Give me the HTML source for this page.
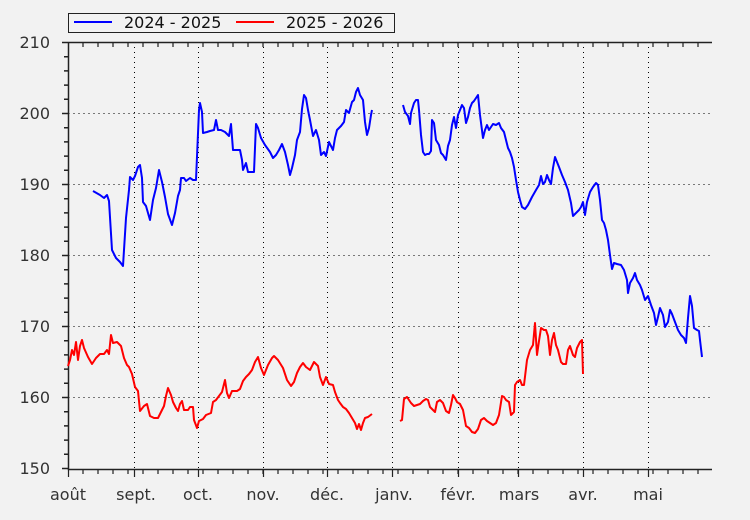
<!DOCTYPE html>
<html><head><meta charset="utf-8"><style>
html,body{margin:0;padding:0;background:#f2f2f2;}
svg{display:block;font-family:"DejaVu Sans","Liberation Sans",sans-serif;}
</style></head><body>
<svg width="750" height="520" viewBox="0 0 750 520" xmlns="http://www.w3.org/2000/svg">
<rect width="750" height="520" fill="#f2f2f2"/>
<g stroke="#000" stroke-width="1" stroke-dasharray="1,4" fill="none">
<path d="M68.5 113.5H712M68.5 184.5H712M68.5 255.5H712M68.5 326.5H712M68.5 397.5H712"/>
<path d="M134.5 42V469M198.5 42V469M263.5 42V469M327.5 42V469M392.5 42V469M458.5 42V469M518.5 42V469M583.5 42V469M648.5 42V469"/>
</g>
<g stroke="#222" stroke-width="1.5" fill="none">
<path d="M68.5 42V469.5H712"/>
<path d="M62 42.5H712"/>
<path d="M62 113.5H68M62 184.5H68M62 255.5H68M62 326.5H68M62 397.5H68M62 468.5H68"/>
<path d="M68 56.7h-4M68 70.9h-4M68 85.1h-4M68 99.3h-4M68 127.7h-4M68 141.9h-4M68 156.1h-4M68 170.3h-4M68 198.7h-4M68 212.9h-4M68 227.1h-4M68 241.3h-4M68 269.7h-4M68 283.9h-4M68 298.1h-4M68 312.3h-4M68 340.7h-4M68 354.9h-4M68 369.1h-4M68 383.3h-4M68 411.7h-4M68 425.9h-4M68 440.1h-4M68 454.3h-4"/>
</g>
<g stroke="#222" stroke-width="1.2">
<path d="M68.5 469v8M134.5 469v8M198.5 469v8M263.5 469v8M327.5 469v8M392.5 469v8M458.5 469v8M518.5 469v8M583.5 469v8M648.5 469v8"/>
<path d="M83 469v5M98 469v5M113 469v5M128 469v5M143 469v5M158 469v5M173 469v5M188 469v5M203 469v5M218 469v5M233 469v5M248 469v5M263 469v5M278 469v5M293 469v5M308 469v5M323 469v5M338 469v5M353 469v5M368 469v5M383 469v5M398 469v5M413 469v5M428 469v5M443 469v5M458 469v5M473 469v5M488 469v5M503 469v5M518 469v5M533 469v5M548 469v5M563 469v5M578 469v5M593 469v5M608 469v5M623 469v5M638 469v5M653 469v5M668 469v5M683 469v5M698 469v5"/>
<path d="M83 42v5M98 42v5M113 42v5M128 42v5M143 42v5M158 42v5M173 42v5M188 42v5M203 42v5M218 42v5M233 42v5M248 42v5M263 42v5M278 42v5M293 42v5M308 42v5M323 42v5M338 42v5M353 42v5M368 42v5M383 42v5M398 42v5M413 42v5M428 42v5M443 42v5M458 42v5M473 42v5M488 42v5M503 42v5M518 42v5M533 42v5M548 42v5M563 42v5M578 42v5M593 42v5M608 42v5M623 42v5M638 42v5M653 42v5M668 42v5M683 42v5M698 42v5"/>
</g>
<g font-size="16" fill="#333" text-anchor="end">
<text x="50" y="48">210</text><text x="50" y="119">200</text><text x="50" y="190">190</text>
<text x="50" y="261">180</text><text x="50" y="332">170</text><text x="50" y="403">160</text><text x="50" y="474">150</text>
</g>
<g font-size="16" fill="#333" text-anchor="middle">
<text x="68" y="500">août</text><text x="136" y="500">sept.</text><text x="198" y="500">oct.</text><text x="263" y="500">nov.</text>
<text x="327" y="500">déc.</text><text x="394" y="500">janv.</text><text x="458" y="500">févr.</text><text x="519" y="500">mars</text>
<text x="583" y="500">avr.</text><text x="648" y="500">mai</text>
</g>
<rect x="68.5" y="13.5" width="326" height="19" fill="#f2f2f2" stroke="#222" stroke-width="1"/>
<line x1="74" y1="22" x2="112" y2="22" stroke="#0000ff" stroke-width="2"/>
<text x="124" y="28" font-size="16" fill="#111">2024 - 2025</text>
<line x1="236" y1="22" x2="274" y2="22" stroke="#ff0000" stroke-width="2"/>
<text x="286" y="28" font-size="16" fill="#111">2025 - 2026</text>
<g fill="none" stroke-width="2" stroke-linejoin="round">
<polyline stroke="#0000ff" points="93,191 100,195 104,198 107,195 109,201 112,250 116,258 120,262 123,266 126,218 129,190 130,177 133,180 135,176 138,167 140,165 142,178 143,202 146,206 150,220 153,200 156,188 159,170 162,182 165,197 168,214 172,225 175,213 178,196 180,190 181,178 184,178 186,181 190,178 193,180 196,180 199,110 200,103 202,112 203,133 207,132 210,131 214,130 216,120 218,130 221,130 225,132 229,136 231,124 233,150 236,150 238,150 240,150 242,160 243,170 246,163 248,172 252,172 254,172 256,124 258,128 261,138 265,145 270,152 273,158 276,155 279,150 282,144 285,152 288,165 290,175 292,168 295,155 297,140 300,132 302,109 304,95 306,98 308,110 310,120 313,136 316,130 319,140 321,155 324,152 326,156 329,142 333,150 335,138 337,130 339,128 341,126 344,122 346,110 349,113 352,102 354,100 356,92 358,88 360,95 363,100 365,122 367,135 369,128 371,115 372,110"/>
<polyline stroke="#0000ff" points="403,105 405,112 408,116 410,124 411,113 414,103 416,100 418,100 419,110 421,135 423,152 425,155 427,154 429,154 431,151 432,120 434,123 436,140 439,145 441,153 443,155 446,160 448,146 450,140 452,125 454,117 456,128 458,115 460,110 462,105 464,108 466,123 468,117 470,108 472,103 474,101 476,98 478,95 480,115 483,138 485,130 487,125 489,130 491,127 493,124 496,125 499,123 501,128 504,132 506,140 508,148 510,152 512,158 514,167 516,180 518,192 520,200 522,207 525,209 528,205 532,197 536,190 539,185 541,176 543,184 545,182 547,175 549,180 551,184 553,168 555,157 557,162 559,167 562,175 565,182 568,190 571,203 573,216 576,213 579,210 581,207 583,202 585,215 587,202 590,192 593,187 596,183 598,185 600,200 602,220 604,223 606,230 608,240 610,255 612,269 614,263 617,264 621,265 624,270 627,280 628,293 630,283 633,278 635,273 637,280 640,285 642,290 645,300 648,296 651,305 654,313 656,325 658,317 660,308 663,315 665,327 668,322 670,310 672,314 675,322 678,330 681,335 684,338 686,343 688,318 690,296 692,306 694,328 697,330 699,331 700,340 702,357"/>
<polyline stroke="#ff0000" points="68,366 70,360 72,350 74,355 76,342 78,360 80,346 82,340 84,348 88,357 92,364 96,358 100,354 104,354 107,350 109,354 111,335 113,343 117,342 121,346 124,358 127,365 129,367 132,374 135,387 138,391 140,411 144,406 147,404 150,416 154,418 158,418 161,412 164,406 166,396 168,388 171,395 173,402 176,408 178,411 180,404 182,401 184,410 188,410 190,407 193,407 194,420 197,428 199,421 203,419 206,415 211,413 213,402 216,400 219,396 222,392 225,380 227,393 229,398 232,391 237,391 240,389 243,381 246,377 249,374 252,370 255,362 258,357 261,368 264,375 268,365 272,358 274,356 278,360 283,368 287,380 291,386 294,382 297,373 300,367 303,363 306,367 310,370 314,362 318,366 320,377 323,385 326,377 329,384 333,385 335,392 338,400 340,403 343,407 346,409 349,413 352,418 355,423 357,429 359,424 361,430 363,423 365,418 368,417 372,414"/>
<polyline stroke="#ff0000" points="400,421 402,420 404,399 407,397 409,400 411,403 414,406 417,405 420,404 423,401 426,399 428,400 430,407 433,410 435,412 437,402 440,400 443,403 446,411 449,413 451,405 453,395 455,398 457,402 460,404 463,410 466,426 469,428 472,432 475,433 478,429 481,420 484,418 487,421 490,423 493,425 496,423 499,415 502,396 504,397 506,400 509,402 511,415 514,412 515,385 517,382 520,380 522,385 524,385 527,360 530,350 533,345 535,323 537,355 539,341 541,328 544,330 546,330 548,336 550,355 552,340 554,333 556,345 558,350 561,362 563,364 566,364 568,350 570,346 573,355 575,357 577,348 580,342 582,340 583,374"/>
</g>
</svg>
</body></html>
